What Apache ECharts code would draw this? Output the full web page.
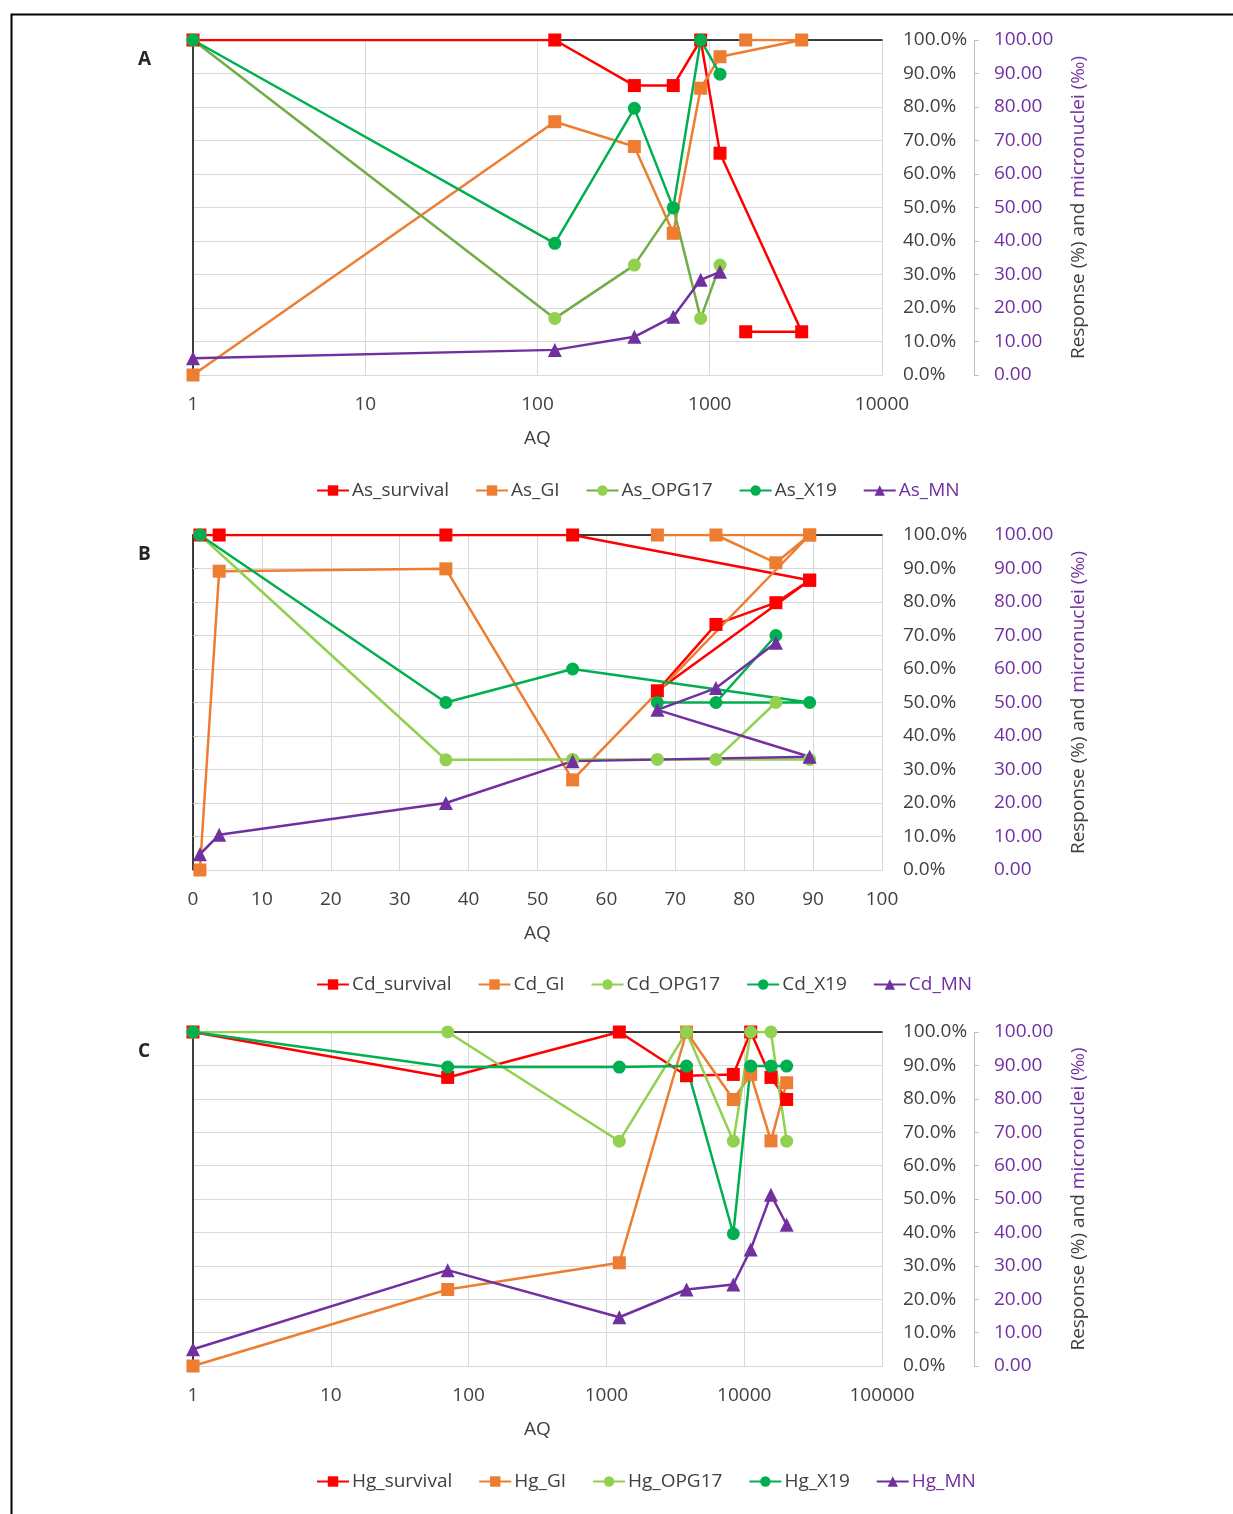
<!DOCTYPE html>
<html>
<head>
<meta charset="utf-8">
<script src="https://cdn.jsdelivr.net/npm/echarts@6/dist/echarts.min.js"></script>
<style>
html,body{margin:0;padding:0;background:#fff;}
#chart{width:1233px;height:1514px;}
</style>
</head>
<body>
<div id="chart"></div>
<script>
// ---------- DATA ----------
// Panel A (As), log AQ axis
const aqA = [1, 126, 365, 614, 886, 1147, 3418, 1617];
const As_survival = [100, 100, 86.4, 86.4, 100, 66.2, 12.9, 12.9];
const As_GI       = [0, 75.6, 68.2, 42.3, 85.6, 95, 100, 100];
const As_OPG17    = [100, 16.9, 32.8, 49.9, 16.9, 32.8];
const As_X19      = [100, 39.3, 79.6, 49.9, 100, 89.8];
const As_MN       = [5, 7.5, 11.4, 17.4, 28.4, 30.8];

// Panel B (Cd), linear AQ axis
const aqB = [1, 3.8, 36.7, 55.1, 89.5, 67.4, 75.9, 84.6, 89.5];
const Cd_survival = [100, 100, 100, 100, 86.5, 53.5, 73.3, 79.8, 86.5];
const Cd_GI       = [0, 89.2, 89.9, 26.9, 100, 100, 100, 91.7, 100];
const Cd_OPG17    = [100, null, 32.9, 33, 33, 33, 33, 50];
const Cd_X19      = [100, null, 50, 60, 50, 50, 50, 70];
const Cd_MN       = [4.7, 10.5, 20, 32.5, 33.8, 47.8, 54.3, 67.8];

// Panel C (Hg), log AQ axis
const aqC = [1, 70.5, 1241, 3816, 8340, 11150, 15640, 20330];
const Hg_survival = [100, 86.4, 100, 86.9, 87.3, 100, 86.4, 79.8];
const Hg_GI       = [0, 22.9, 30.9, 100, 79.8, 87.3, 67.4, 84.8];
const Hg_OPG17    = [100, 100, 67.3, 100, 67.3, 100, 100, 67.3];
const Hg_X19      = [100, 89.5, 89.5, 89.8, 39.6, 89.8, 89.8, 89.8];
const Hg_MN       = [5, 28.7, 14.6, 22.9, 24.4, 34.9, 51.3, 42.3];

const panelLabels = ['A', 'B', 'C'];
const xTitle = 'AQ';
const yTitleA = 'Response (%) and ';
const yTitleB = 'micronuclei (‰)';

// ---------- STYLE ----------
const FONT = 'Open Sans';
const C_RED = '#FF0000', C_ORANGE = '#ED7D31', C_LGREEN = '#92D050',
      C_OLIVE = '#70AD47', C_GREEN = '#00B050', C_PURPLE = '#7030A0';
const GRID_C = '#d9d9d9', TXT = '#404040';

function pairs(xs, ys) {
  const out = [];
  ys.forEach((y, i) => { if (y !== null && y !== undefined) out.push([xs[i], y]); });
  return out;
}

const panels = [
  { prefix: 'As', top: 40, height: 335, xType: 'log', xMin: 1, xMax: 10000, xs: aqA,
    sets: [As_survival, As_GI, As_OPG17, As_X19, As_MN], olive: true, legendTop: 476 },
  { prefix: 'Cd', top: 535, height: 335, xType: 'value', xMin: 0, xMax: 100, xs: aqB,
    sets: [Cd_survival, Cd_GI, Cd_OPG17, Cd_X19, Cd_MN], olive: false, legendTop: 970 },
  { prefix: 'Hg', top: 1032, height: 334, xType: 'log', xMin: 1, xMax: 100000, xs: aqC,
    sets: [Hg_survival, Hg_GI, Hg_OPG17, Hg_X19, Hg_MN], olive: false, legendTop: 1467 }
];

const suffixes = ['survival', 'GI', 'OPG17', 'X19', 'MN'];
const grids = [], xAxes = [], yAxes = [], series = [], legends = [], graphics = [];

panels.forEach((p, k) => {
  grids.push({ left: 193, width: 689, top: p.top, height: p.height, containLabel: false });
  const xBase = {
    type: p.xType, gridIndex: k, min: p.xMin, max: p.xMax
  };
  if (p.xType === 'log') xBase.logBase = 10; else xBase.interval = 10;
  xAxes.push(Object.assign({}, xBase, {
    position: 'bottom',
    name: xTitle, nameLocation: 'middle', nameGap: 54,
    nameTextStyle: { fontFamily: FONT, fontSize: 19, color: TXT },
    axisLine: { show: true, onZero: false, lineStyle: { color: GRID_C, width: 1 } },
    axisTick: { show: false },
    axisLabel: { fontFamily: FONT, fontSize: 19, color: TXT, margin: 20,
      formatter: v => String(Math.round(v)) },
    splitLine: { show: true, lineStyle: { color: GRID_C, width: 1 } }
  }));
  xAxes.push(Object.assign({}, xBase, {
    position: 'top',
    axisLine: { show: true, onZero: false, lineStyle: { color: '#000', width: 1.5 } },
    axisTick: { show: false }, axisLabel: { show: false }, splitLine: { show: false }
  }));
  // primary percent axis (right)
  yAxes.push({
    type: 'value', gridIndex: k, position: 'right', min: 0, max: 100, interval: 10,
    axisLine: { show: true, lineStyle: { color: GRID_C, width: 1 } },
    axisTick: { show: false },
    axisLabel: { fontFamily: FONT, fontSize: 19, color: TXT, margin: 21,
      formatter: v => v.toFixed(1) + '%' },
    splitLine: { show: true, lineStyle: { color: GRID_C, width: 1 } }
  });
  // secondary micronuclei axis (right, offset)
  yAxes.push({
    type: 'value', gridIndex: k, position: 'right', offset: 92, min: 0, max: 100, interval: 10,
    axisLine: { show: true, lineStyle: { color: '#bfbfbf', width: 1 } },
    axisTick: { show: true, length: 5, lineStyle: { color: '#bfbfbf' } },
    axisLabel: { fontFamily: FONT, fontSize: 19, color: C_PURPLE, margin: 20,
      formatter: v => v.toFixed(2) },
    splitLine: { show: false },
    name: '{a|' + yTitleA + '}{b|' + yTitleB + '}',
    nameLocation: 'middle', nameRotate: 90, nameGap: 95,
    nameTextStyle: { fontFamily: FONT, fontSize: 19,
      rich: { a: { fontFamily: FONT, fontSize: 19, color: TXT },
              b: { fontFamily: FONT, fontSize: 19, color: C_PURPLE } } }
  });
  // left black border line
  yAxes.push({
    type: 'value', gridIndex: k, position: 'left', min: 0, max: 100,
    axisLine: { show: true, onZero: false, lineStyle: { color: '#000', width: 1.5 } },
    axisTick: { show: false }, axisLabel: { show: false }, splitLine: { show: false }
  });

  const colors = [C_RED, C_ORANGE, C_LGREEN, C_GREEN, C_PURPLE];
  const symbols = ['rect', 'rect', 'circle', 'circle', 'triangle'];
  const sizes = [13, 13, 13, 13, 14];
  const names = [];
  p.sets.forEach((ys, j) => {
    const name = p.prefix + '_' + suffixes[j];
    names.push(j === 4 ? { name: name, textStyle: { color: C_PURPLE } } : name);
    const lineColor = (j === 2 && p.olive) ? C_OLIVE : colors[j];
    series.push({
      name: name, type: 'line',
      xAxisIndex: 2 * k, yAxisIndex: j === 4 ? 3 * k + 1 : 3 * k,
      data: pairs(p.xs, ys),
      symbol: symbols[j], symbolSize: sizes[j],
      showAllSymbol: true,
      lineStyle: { color: lineColor, width: 2.5 },
      itemStyle: { color: colors[j] },
      emphasis: { disabled: true },
      animation: false
    });
  });
  legends.push({
    data: names, top: p.legendTop, left: 311, itemGap: 26, itemWidth: 32, itemHeight: 13,
    textStyle: { fontFamily: FONT, fontSize: 19, color: TXT, padding: [0, 0, 0, -2] },
    selectedMode: false
  });
  graphics.push({
    type: 'text', left: 138, top: p.top + 10,
    style: { text: panelLabels[k], font: 'bold 19px "' + FONT + '"', fill: '#262626' }
  });
});

graphics.push({
  type: 'rect', left: 9, top: 12,
  shape: { x: 0, y: 0, width: 1400, height: 1700 },
  style: { fill: 'none', stroke: '#000', lineWidth: 2 }
});

const chart = echarts.init(document.getElementById('chart'), null, { renderer: 'canvas' });
chart.setOption({
  backgroundColor: '#fff',
  animation: false,
  grid: grids, xAxis: xAxes, yAxis: yAxes, series: series, legend: legends,
  graphic: graphics
});
</script>
</body>
</html>
